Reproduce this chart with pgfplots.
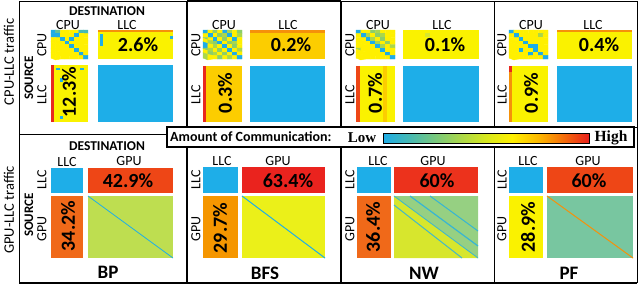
\documentclass[border=0pt]{standalone}
\usepackage{pgfplots}
\pgfplotsset{compat=1.18}
\usepackage{fontspec}
\setmainfont{Carlito}
\newfontfamily\serifb{Liberation Serif}
\definecolor{cb}{RGB}{30,174,232}
\definecolor{cy}{RGB}{250,242,0}
\definecolor{cyo}{RGB}{252,205,0}
\definecolor{co}{RGB}{245,150,0}
\definecolor{cor}{RGB}{240,105,25}
\definecolor{cr1}{RGB}{238,70,22}
\definecolor{cr2}{RGB}{234,35,30}
\definecolor{cr3}{RGB}{236,50,28}
\definecolor{cstr}{RGB}{245,145,10}
\definecolor{cred}{RGB}{232,40,30}
\definecolor{gbp}{RGB}{190,222,80}
\definecolor{gbfs}{RGB}{235,240,25}
\definecolor{gnwu}{RGB}{150,208,130}
\definecolor{gnwl}{RGB}{215,230,45}
\definecolor{gpf}{RGB}{120,198,160}
\newcommand{\rect}[5]{\addplot[draw=none, fill=#5] coordinates {(#1,#2) (#3,#2) (#3,#4) (#1,#4)} --cycle;}
\newcommand{\seg}[5]{\addplot[black, line width=#5] coordinates {(#1,#2) (#3,#4)};}
\newcommand{\cpublock}[5]{\addplot[matrix plot*, mesh/cols=8, point meta=explicit] table[row sep=\\, meta=c, x expr={#1+(mod(\coordindex,8)+0.5)*#3/8}, y expr={#2+(floor(\coordindex/8)+0.5)*#4/8}] {c\\ #5};}
\newcommand{\pct}{\fontsize{20}{20}\selectfont\bfseries}
\newcommand{\lab}{\fontsize{14}{14}\selectfont}
\newcommand{\bnd}{\fontsize{19}{19}\selectfont\bfseries}
\begin{document}
\begin{tikzpicture}
\begin{axis}[width=640pt, height=285pt, scale only axis, xmin=0, xmax=640, ymin=0, ymax=285, y dir=reverse, hide axis, clip=false,
 colormap={comm}{rgb255=(30,172,230) rgb255=(70,185,180) rgb255=(120,200,125) rgb255=(170,215,75) rgb255=(215,232,30) rgb255=(255,240,0) rgb255=(252,185,0) rgb255=(245,110,10) rgb255=(232,32,28)},
 point meta min=0, point meta max=4]
\path (axis cs:0,0) rectangle (axis cs:640,285);
% ===== top row: CPU-LLC =====
% BP
\cpublock{51}{30}{37}{29}{0\\0.8\\2.5\\2.5\\2.5\\2.5\\0.5\\0.5\\ 0\\0\\2.5\\2.5\\2.5\\0\\2.5\\2.5\\ 2.5\\2.5\\0\\2.5\\0\\2.5\\2.5\\2.5\\ 2.5\\2.5\\2.5\\0\\2.5\\2.5\\2.5\\2.5\\ 2.5\\2.5\\2.5\\2.5\\0\\2.5\\2.5\\2.5\\ 2.5\\2.5\\2.5\\2.5\\2.5\\0\\2.5\\2.5\\ 2.5\\2.5\\2.5\\2.5\\2.5\\2.5\\0\\2.5\\ 2.5\\2.5\\2.5\\2.5\\2.5\\2.5\\2.5\\0\\}
\rect{98}{30}{173}{59}{cy}
\rect{98}{30}{173}{32}{cstr}
\rect{100}{34}{102.5}{46}{cb}
\rect{170}{36}{173}{39}{cb}
\rect{51}{65}{88}{122}{cy}
\rect{51}{65}{54}{122}{cred}
\rect{56}{68}{60}{70}{cb}
\rect{80}{68}{84}{70}{cb}
\rect{60}{78}{63}{82}{cb}
\rect{60}{116}{63}{119}{cb}
\rect{98}{65}{173}{122}{cb}
% BFS
\cpublock{203}{30}{39}{29}{0\\2.5\\1.2\\2.5\\0\\1.5\\2.5\\1.2\\ 2.5\\0\\2.5\\1.2\\1.5\\0\\2.5\\1.5\\ 1.2\\2.5\\0\\2.5\\1.2\\2.5\\0\\2.5\\ 2.5\\1.5\\1.2\\0\\2.5\\1.2\\1.5\\2.5\\ 0\\2.5\\1.5\\2.5\\0\\2.5\\1.2\\2.5\\ 1.2\\1.5\\2.5\\1.2\\2.5\\0\\2.5\\1.5\\ 2.5\\1.2\\1.5\\2.5\\1.2\\2.5\\0\\2.5\\ 1.5\\2.5\\2.5\\1.2\\2.5\\1.5\\2.5\\0\\}
\rect{250}{30}{325}{59}{cyo}
\rect{250}{30}{325}{33}{cstr}
\rect{203}{66}{242}{122}{cyo}
\rect{203}{66}{206}{122}{cred}
\rect{250}{66}{325}{122}{cb}
% NW
\cpublock{356}{30}{39}{29}{0\\2.5\\2.5\\1.2\\1.5\\2.5\\2.5\\2.5\\ 2.5\\0\\1.5\\2.5\\1.2\\1.5\\2.5\\2.5\\ 2.5\\2.5\\0\\1.5\\2.5\\1.2\\2.5\\2.5\\ 2.5\\2.5\\2.5\\0\\1.5\\2.5\\1.2\\2.5\\ 2.5\\2.5\\2.5\\2.5\\0\\1.5\\2.5\\1.5\\ 1.5\\2.5\\2.5\\2.5\\2.5\\0\\2.5\\2.5\\ 2.5\\2.5\\2.5\\2.5\\2.5\\2.5\\0\\2.5\\ 2.5\\2.5\\2.5\\2.5\\2.5\\2.5\\2.5\\0\\}
\rect{403}{30}{479}{59}{cy}
\rect{425}{33}{430}{37}{gnwl}
\rect{356}{66}{395}{122}{cy}
\rect{356}{66}{360}{122}{cr1}
\rect{383}{66}{387}{122}{cyo}
\rect{403}{66}{479}{122}{cb}
% PF
\cpublock{509}{30}{39}{29}{0\\2.5\\2.5\\2.5\\2.5\\2.5\\2.5\\2.5\\ 2.5\\0\\2.5\\2.5\\2.5\\2.5\\1.5\\2.5\\ 2.5\\2.5\\0\\2.5\\2.5\\2.5\\2.5\\2.5\\ 2.5\\2.5\\2.5\\0\\2.5\\2.5\\2.5\\2.5\\ 2.5\\2.5\\2.5\\2.5\\0\\0\\2.5\\2.5\\ 2.5\\2.5\\0\\2.5\\2.5\\0\\2.5\\2.5\\ 2.5\\2.5\\2.5\\2.5\\0\\2.5\\0\\2.5\\ 2.5\\2.5\\2.5\\2.5\\2.5\\2.5\\2.5\\0\\}
\rect{557}{30}{632}{59}{cy}
\rect{557}{30}{632}{32}{cstr}
\rect{509}{66}{548}{122}{cy}
\rect{509}{66}{511.5}{122}{cstr}
\rect{509}{66}{511.5}{72}{cred}
\rect{557}{66}{632}{122}{cb}
% ===== bottom row: GPU-LLC =====
% BP
\rect{51}{168}{83}{193}{cb}
\rect{88}{168}{173}{193}{cr1}
\rect{51}{196}{83}{258}{cor}
\rect{88}{196}{173}{258}{gbp}
\addplot[cb, line width=0.8pt] coordinates {(88,196) (173,258)};
% BFS
\rect{203}{167}{238}{193}{cb}
\rect{242}{167}{325}{193}{cr2}
\rect{203}{196}{238}{258}{co}
\rect{242}{196}{325}{258}{gbfs}
\addplot[cb, line width=1pt] coordinates {(242,196) (325,258)};
% NW
\rect{357}{167}{391}{193}{cb}
\rect{394}{167}{478}{193}{cr3}
\rect{357}{196}{391}{258}{cor}
\addplot[draw=none, fill=gnwu] coordinates {(394,196) (478,196) (478,258)} --cycle;
\addplot[draw=none, fill=gnwl] coordinates {(394,196) (478,258) (394,258)} --cycle;
\addplot[cb!80!gnwu, line width=1.2pt] coordinates {(410,196) (478,246)};
\addplot[cb!80!gnwu, line width=1pt] coordinates {(430,196) (478,231)};
\addplot[cb!70!gnwu, line width=1pt] coordinates {(394,205) (462,258)};
\addplot[cb!80!gnwu, line width=0.8pt] coordinates {(394,196) (478,258)};
% PF
\rect{509}{167}{543}{193}{cb}
\rect{547}{167}{633}{193}{cr1}
\rect{509}{196}{543}{258}{cy}
\rect{547}{196}{633}{258}{gpf}
\addplot[cstr, line width=1pt] coordinates {(547,196) (633,258)};
% ===== frames =====
\seg{19}{1}{637}{1}{1pt}
\seg{19}{1}{19}{283}{1pt}
\seg{637}{1}{637}{283}{1pt}
\seg{19}{283}{637}{283}{1.6pt}
\seg{19}{134}{167}{134}{1pt}
\seg{187}{127}{637}{127}{1pt}
\seg{494}{1}{494}{127}{1pt}
\seg{494}{147}{494}{283}{1pt}
\seg{187}{1}{187}{283}{2pt}
\seg{341}{1}{341}{127}{2pt}
\seg{341}{147}{341}{283}{2pt}
\seg{187}{1}{341}{1}{2pt}
\seg{187}{127}{341}{127}{2pt}
% legend box
\addplot[draw=black, line width=1.2pt, fill=white] coordinates {(167,127) (634,127) (634,147) (167,147)} --cycle;
\addplot[surf, shader=interp, point meta=explicit, mesh/rows=2] table[meta=c] {
x y c
383 133 0
409 133 0.5
435 133 1
460 133 1.5
486 133 2
512 133 2.5
538 133 3
563 133 3.5
589 133 4
383 143 0
409 143 0.5
435 143 1
460 143 1.5
486 143 2
512 143 2.5
538 143 3
563 143 3.5
589 143 4
};
\addplot[draw=black, line width=0.8pt] coordinates {(383,133) (589,133) (589,143) (383,143)} --cycle;
\node[anchor=west, inner sep=1pt, font=\fontsize{14}{14}\selectfont\bfseries] at (axis cs:169,137) {Amount of Communication:};
\node[inner sep=1pt, font=\fontsize{15}{15}\selectfont\serifb\bfseries] at (axis cs:362,137.5) {Low};
\node[inner sep=1pt, font=\fontsize{15.5}{15.5}\selectfont\serifb\bfseries] at (axis cs:611,138) {High};
% ===== texts =====
\begin{scope}[every node/.style={inner sep=0.5pt}]
\node[rotate=90, font=\fontsize{14.5}{14.5}\selectfont] at (axis cs:9,62) {CPU-LLC traffic};
\node[rotate=90, font=\fontsize{14.5}{14.5}\selectfont] at (axis cs:9,210) {GPU-LLC traffic};
\node[font=\fontsize{13.5}{13.5}\selectfont\bfseries] at (axis cs:107,11.5) {DESTINATION};
\node[font=\fontsize{13.5}{13.5}\selectfont\bfseries] at (axis cs:107,146.5) {DESTINATION};
\node[rotate=90, font=\fontsize{13}{13}\selectfont\bfseries] at (axis cs:29,78) {SOURCE};
\node[rotate=90, font=\fontsize{13}{13}\selectfont\bfseries] at (axis cs:29,215) {SOURCE};
% column labels top
\node[font=\lab] at (axis cs:68,25) {CPU};
\node[font=\lab] at (axis cs:127,25) {LLC};
\node[font=\lab] at (axis cs:224,25) {CPU};
\node[font=\lab] at (axis cs:288,25) {LLC};
\node[font=\lab] at (axis cs:378,25) {CPU};
\node[font=\lab] at (axis cs:442,25) {LLC};
\node[font=\lab] at (axis cs:531,25) {CPU};
\node[font=\lab] at (axis cs:593,25) {LLC};
% row labels top
\node[rotate=90, font=\lab] at (axis cs:42,45) {CPU};
\node[rotate=90, font=\lab] at (axis cs:42,95) {LLC};
\node[rotate=90, font=\lab] at (axis cs:196,45) {CPU};
\node[rotate=90, font=\lab] at (axis cs:196,95) {LLC};
\node[rotate=90, font=\lab] at (axis cs:350,45) {CPU};
\node[rotate=90, font=\lab] at (axis cs:350,95) {LLC};
\node[rotate=90, font=\lab] at (axis cs:502,45) {CPU};
\node[rotate=90, font=\lab] at (axis cs:502,95) {LLC};
% column labels bottom
\node[font=\lab] at (axis cs:67,161.5) {LLC};
\node[font=\lab] at (axis cs:129,161.5) {GPU};
\node[font=\lab] at (axis cs:222,161) {LLC};
\node[font=\lab] at (axis cs:278,161) {GPU};
\node[font=\lab] at (axis cs:378,161) {LLC};
\node[font=\lab] at (axis cs:433,161) {GPU};
\node[font=\lab] at (axis cs:528,161) {LLC};
\node[font=\lab] at (axis cs:588,161) {GPU};
% row labels bottom
\node[rotate=90, font=\lab] at (axis cs:42,180) {LLC};
\node[rotate=90, font=\lab] at (axis cs:42,229) {GPU};
\node[rotate=90, font=\lab] at (axis cs:196,180) {LLC};
\node[rotate=90, font=\lab] at (axis cs:196,229) {GPU};
\node[rotate=90, font=\lab] at (axis cs:350,180) {LLC};
\node[rotate=90, font=\lab] at (axis cs:350,229) {GPU};
\node[rotate=90, font=\lab] at (axis cs:502,180) {LLC};
\node[rotate=90, font=\lab] at (axis cs:502,229) {GPU};
% percentages
\node[font=\pct] at (axis cs:138,45) {2.6\%};
\node[font=\pct] at (axis cs:291,45) {0.2\%};
\node[font=\pct] at (axis cs:445,45) {0.1\%};
\node[font=\pct] at (axis cs:599,45) {0.4\%};
\node[rotate=90, font=\pct] at (axis cs:69,92) {12.3\%};
\node[rotate=90, font=\pct] at (axis cs:225,93) {0.3\%};
\node[rotate=90, font=\pct] at (axis cs:375,93) {0.7\%};
\node[rotate=90, font=\pct] at (axis cs:531,93) {0.9\%};
\node[font=\pct] at (axis cs:128,181) {42.9\%};
\node[font=\pct] at (axis cs:288,181) {63.4\%};
\node[font=\pct] at (axis cs:437,181) {60\%};
\node[font=\pct] at (axis cs:589,181) {60\%};
\node[rotate=90, font=\pct] at (axis cs:68,226) {34.2\%};
\node[rotate=90, font=\pct] at (axis cs:220,228) {29.7\%};
\node[rotate=90, font=\pct] at (axis cs:373,227) {36.4\%};
\node[rotate=90, font=\pct] at (axis cs:528,227) {28.9\%};
% benchmark names
\node[font=\bnd] at (axis cs:108,272) {BP};
\node[font=\bnd] at (axis cs:265,273) {BFS};
\node[font=\bnd] at (axis cs:424,273) {NW};
\node[font=\bnd] at (axis cs:569,273) {PF};
\end{scope}
\end{axis}
\end{tikzpicture}
\end{document}
